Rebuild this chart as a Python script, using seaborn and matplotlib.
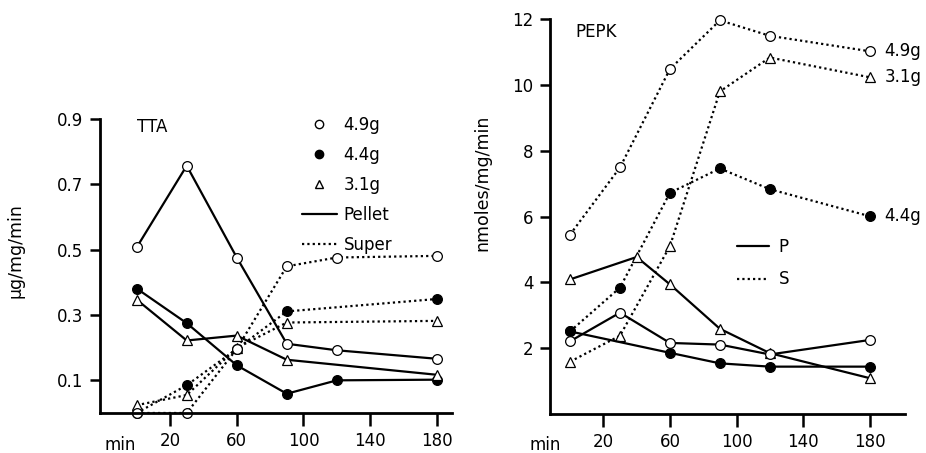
import numpy as np
import pandas as pd
import matplotlib
matplotlib.use("Agg")
import matplotlib.pyplot as plt
from matplotlib.lines import Line2D
from matplotlib.transforms import blended_transform_factory
import seaborn as sns

# sampling times (min)
times = [0, 30, 60, 90, 120, 180]
times_pepk_p31 = [0, 40, 60, 90, 120, 180]

# TTA, ug/mg/min
tta_pellet_49 = [0.507, 0.757, 0.476, 0.212, 0.192, 0.166]
tta_super_49 = [0.0, 0.0, 0.196, 0.449, 0.476, 0.481]
tta_pellet_44 = [0.381, 0.275, 0.146, 0.059, 0.100, 0.102]
tta_super_44 = [0.0, 0.085, 0.196, 0.311, np.nan, 0.349]
tta_pellet_31 = [0.347, 0.222, 0.237, 0.163, np.nan, 0.117]
tta_super_31 = [0.024, 0.055, 0.199, 0.277, np.nan, 0.282]

# PEPK, nmoles/mg/min
pepk_pellet_49 = [2.21, 3.08, 2.16, 2.11, 1.81, 2.25]
pepk_super_49 = [5.45, 7.49, 10.48, 11.96, 11.49, 11.02]
pepk_pellet_44 = [2.51, np.nan, 1.86, 1.54, 1.44, 1.44]
pepk_super_44 = [2.51, 3.84, 6.72, 7.46, 6.83, 6.01]
pepk_pellet_31 = [4.09, 4.77, 3.94, 2.59, 1.85, 1.09]
pepk_super_31 = [1.59, 2.38, 5.10, 9.80, 10.83, 10.23]

weights = ["4.9g", "4.4g", "3.1g"]


def frame(assay, fraction, weight, t, v):
    return pd.DataFrame({"assay": assay, "fraction": fraction, "weight": weight,
                         "min": t, "value": v}).dropna()


data = pd.concat([
    frame("TTA", "Super", "4.4g", times, tta_super_44),
    frame("TTA", "Super", "3.1g", times, tta_super_31),
    frame("TTA", "Super", "4.9g", times, tta_super_49),
    frame("TTA", "Pellet", "4.4g", times, tta_pellet_44),
    frame("TTA", "Pellet", "3.1g", times, tta_pellet_31),
    frame("TTA", "Pellet", "4.9g", times, tta_pellet_49),
    frame("PEPK", "Super", "4.4g", times, pepk_super_44),
    frame("PEPK", "Super", "3.1g", times, pepk_super_31),
    frame("PEPK", "Super", "4.9g", times, pepk_super_49),
    frame("PEPK", "Pellet", "4.4g", times, pepk_pellet_44),
    frame("PEPK", "Pellet", "3.1g", times_pepk_p31, pepk_pellet_31),
    frame("PEPK", "Pellet", "4.9g", times, pepk_pellet_49),
], ignore_index=True)

markers = {"4.9g": "o", "4.4g": "o", "3.1g": "^"}
faces = {"4.9g": "white", "4.4g": "black", "3.1g": "white"}
msizes = {"4.9g": 7, "4.4g": 7, "3.1g": 6.5}
styles = {"Pellet": "-", "Super": (0, (1, 1.4))}

sns.set_style("ticks")
plt.rcParams["font.family"] = ["DejaVu Sans"]
plt.rcParams["font.size"] = 12
for key in ["text.color", "axes.labelcolor", "xtick.color", "ytick.color", "axes.edgecolor"]:
    plt.rcParams[key] = "black"

fig = plt.figure(figsize=(9.26, 4.53), dpi=100)
ax1 = fig.add_axes([0.108, 0.0883, 0.380, 0.649])
ax2 = fig.add_axes([0.594, 0.086, 0.383, 0.872])

for ax, assay in [(ax1, "TTA"), (ax2, "PEPK")]:
    sub = data[data["assay"] == assay]
    for (fraction, weight), grp in sub.groupby(["fraction", "weight"], sort=False):
        sns.lineplot(data=grp, x="min", y="value", ax=ax, color="black",
                     linestyle=styles[fraction], linewidth=1.6, errorbar=None,
                     marker=markers[weight], markersize=msizes[weight],
                     markerfacecolor=faces[weight], markeredgecolor="black",
                     markeredgewidth=0.9, clip_on=False)
    for side in ["top", "right"]:
        ax.spines[side].set_visible(False)
    for side in ["left", "bottom"]:
        ax.spines[side].set_linewidth(2.0)
    ax.set_xticks([20, 60, 100, 140, 180])
    ax.tick_params(axis="x", direction="out", length=9, width=1.8, pad=5, labelsize=12)
    ax.tick_params(axis="y", direction="out", length=7, width=1.8, pad=5, labelsize=12)
    ax.set_xlabel("")

# TTA panel
ax1.set_xlim(-22, 189)
ax1.set_ylim(0, 0.9)
ax1.set_yticks([0.1, 0.3, 0.5, 0.7, 0.9])
ax1.set_yticklabels(["0.1", "0.3", "0.5", "0.7", "0.9"])
ax1.set_ylabel("µg/mg/min", fontsize=12.5)
ax1.yaxis.set_label_coords(-0.215, 0.554)
ax1.text(0, 0.874, "TTA", fontsize=12, va="center", ha="left")
tr1 = blended_transform_factory(ax1.transData, ax1.transAxes)
ax1.text(-10, -0.109, "min", transform=tr1, fontsize=12, ha="center", va="center")

handles = [
    Line2D([], [], linestyle="none", marker="o", markersize=6, mfc="white", mec="black"),
    Line2D([], [], linestyle="none", marker="o", markersize=6, mfc="black", mec="black"),
    Line2D([], [], linestyle="none", marker="^", markersize=5.5, mfc="white", mec="black"),
    Line2D([], [], color="black", linestyle="-", linewidth=1.6),
    Line2D([], [], color="black", linestyle=(0, (1, 1.4)), linewidth=1.6),
]
ax1.legend(handles, weights + ["Pellet", "Super"], loc="upper left",
           bbox_to_anchor=(0.574, 1.01), frameon=False, fontsize=12,
           handlelength=2.1, handletextpad=0.4, labelspacing=0.72,
           borderpad=0, borderaxespad=0)

# PEPK panel
ax2.set_xlim(-12, 201)
ax2.set_ylim(0, 12)
ax2.set_yticks([2, 4, 6, 8, 10, 12])
ax2.set_ylabel("nmoles/mg/min", fontsize=12.5)
ax2.yaxis.set_label_coords(-0.165, 0.585)
ax2.text(3, 11.6, "PEPK", fontsize=12, va="center", ha="left")
tr2 = blended_transform_factory(ax2.transData, ax2.transAxes)
ax2.text(-15, -0.078, "min", transform=tr2, fontsize=12, ha="center", va="center")
ax2.text(189, pepk_super_49[-1], "4.9g", fontsize=12, va="center", ha="left")
ax2.text(189, pepk_super_31[-1], "3.1g", fontsize=12, va="center", ha="left")
ax2.text(189, pepk_super_44[-1], "4.4g", fontsize=12, va="center", ha="left")

handles2 = [
    Line2D([], [], color="black", linestyle="-", linewidth=1.6),
    Line2D([], [], color="black", linestyle=(0, (1, 1.4)), linewidth=1.6),
]
ax2.legend(handles2, ["P", "S"], loc="upper left", bbox_to_anchor=(0.527, 0.445),
           frameon=False, fontsize=12, handlelength=1.9, handletextpad=0.6,
           labelspacing=0.85, borderpad=0, borderaxespad=0)

fig.savefig("out.png", dpi=100)
